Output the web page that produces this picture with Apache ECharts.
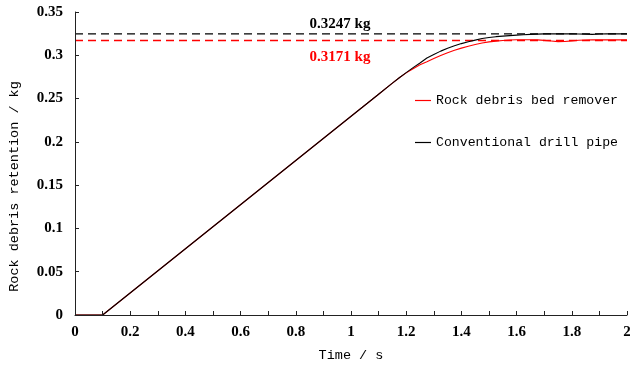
<!DOCTYPE html>
<html>
<head>
<meta charset="utf-8">
<script src="https://cdn.jsdelivr.net/npm/echarts@6/dist/echarts.min.js"></script>
<style>
  html, body { margin: 0; padding: 0; background: #fff; }
  #chart { width: 630px; height: 365px; }
</style>
</head>
<body>
<div id="chart"></div>
<script>
// time (s)
const time = [0, 0.1, 1.1,
  1.15, 1.175, 1.2, 1.225, 1.25, 1.275, 1.3, 1.325, 1.35, 1.375, 1.4, 1.425, 1.45, 1.475, 1.5, 1.525, 1.55, 1.575,
  1.6, 1.625, 1.65, 1.675, 1.7, 1.725, 1.75, 1.775, 1.8, 1.825, 1.85, 1.875, 1.9, 1.925, 1.95, 1.975, 2.0];
// rock debris retention (kg)
const remover = [0, 0, 0.2550,
  0.2678, 0.2741, 0.2797, 0.2845, 0.2890, 0.2925, 0.2962, 0.2998, 0.3030, 0.3058, 0.3083, 0.3105, 0.3124, 0.3141, 0.3155, 0.3164, 0.3171, 0.3176,
  0.3179, 0.3180, 0.3180, 0.3178, 0.3172, 0.3165, 0.3158, 0.3160, 0.3166, 0.3173, 0.3177, 0.3178, 0.3179, 0.3178, 0.3179, 0.3178, 0.3179];
const conventional = [0, 0, 0.2550,
  0.2678, 0.2741, 0.2800, 0.2857, 0.2911, 0.2968, 0.3008, 0.3048, 0.3082, 0.3110, 0.3135, 0.3157, 0.3175, 0.3193, 0.3206, 0.3215, 0.3221, 0.3227,
  0.3233, 0.3238, 0.3242, 0.3245, 0.3247, 0.3248, 0.3247, 0.3247, 0.3248, 0.3246, 0.3244, 0.3241, 0.3246, 0.3247, 0.3247, 0.3248, 0.3247];
const steadyRemover = 0.3171;
const steadyConventional = 0.3247;
const seriesNames = ['Rock debris bed remover', 'Conventional drill pipe'];

const serifBold = { fontFamily: 'Liberation Serif', fontWeight: 'bold', fontSize: 15, color: '#000' };
const mono = { fontFamily: 'Liberation Mono', fontSize: 13.5, color: '#000' };

function pairs(ys) { return time.map((t, i) => [t, ys[i]]); }

// dashed steady-state line with its value label
function steadySeries(value, color, dy) {
  return {
    type: 'line', silent: true, showSymbol: false, symbol: 'none',
    data: [[0, value], [2, value]],
    lineStyle: { color: color, type: [8, 5], width: 1.3 },
    z: 1,
    markPoint: {
      silent: true, symbol: 'circle', symbolSize: 0,
      data: [{ coord: [0.96, value] }],
      label: {
        show: true, position: 'inside', offset: [0, dy],
        formatter: value + ' kg',
        fontFamily: 'Liberation Serif', fontWeight: 'bold', fontSize: 15, color: color
      }
    }
  };
}

const chart = echarts.init(document.getElementById('chart'));
chart.setOption({
  animation: false,
  backgroundColor: '#fff',
  grid: { left: 75, right: 3, top: 12, bottom: 50, containLabel: false, outerBoundsMode: 'none' },
  legend: {
    data: seriesNames,
    orient: 'vertical',
    left: 410, top: 89,
    itemGap: 29,
    itemWidth: 16, itemHeight: 1.2,
    icon: 'rect',
    textStyle: Object.assign({}, mono, { fontSize: 13.2 })
  },
  xAxis: {
    type: 'value', min: 0, max: 2, interval: 0.2, z: 10,
    name: 'Time / s', nameLocation: 'middle', nameGap: 33,
    nameTextStyle: mono,
    axisLine: { lineStyle: { color: '#222', width: 1 } },
    axisTick: { inside: true, length: 4, lineStyle: { color: '#222' } },
    minorTick: { show: true, splitNumber: 2, length: 4, lineStyle: { color: '#222' } },
    splitLine: { show: false },
    axisLabel: Object.assign({ margin: 10 }, serifBold)
  },
  yAxis: {
    type: 'value', min: 0, max: 0.35, interval: 0.05, z: 10,
    name: 'Rock debris retention / kg', nameLocation: 'middle', nameGap: 54,
    nameTextStyle: Object.assign({ padding: [0, 46, 0, 0] }, mono),
    axisLine: { show: true, lineStyle: { color: '#222', width: 1 } },
    axisTick: { show: true, inside: true, length: 4, lineStyle: { color: '#222' } },
    splitLine: { show: false },
    axisLabel: Object.assign({ margin: 12 }, serifBold)
  },
  series: [
    steadySeries(steadyConventional, '#000', -10),
    steadySeries(steadyRemover, '#ff0000', 17),
    {
      name: seriesNames[0], type: 'line', data: pairs(remover),
      showSymbol: false, symbol: 'none', z: 3,
      lineStyle: { color: '#ff0000', width: 1.1 }, itemStyle: { color: '#ff0000' }
    },
    {
      name: seriesNames[1], type: 'line', data: pairs(conventional),
      showSymbol: false, symbol: 'none', z: 3,
      lineStyle: { color: '#000', width: 1.1 }, itemStyle: { color: '#000' }
    }
  ]
});
</script>
</body>
</html>
